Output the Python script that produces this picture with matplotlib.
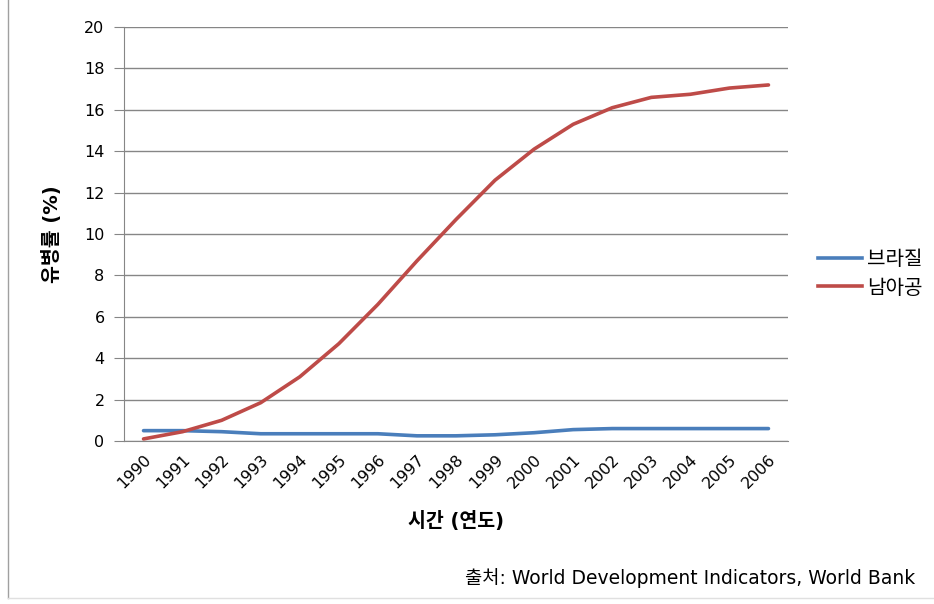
import numpy as np
import matplotlib.pyplot as plt
from matplotlib.lines import Line2D

plt.rcParams['font.family'] = ['DejaVu Sans', 'Noto Sans CJK KR']

# HIV prevalence, 1990-2006 (%)
years = [str(y) for y in range(1990, 2007)]
brazil = [0.5, 0.5, 0.45, 0.35, 0.35, 0.35, 0.35, 0.25, 0.25, 0.3, 0.4,
          0.55, 0.6, 0.6, 0.6, 0.6, 0.6]
south_africa = [0.1, 0.45, 1.0, 1.85, 3.1, 4.7, 6.6, 8.7, 10.7, 12.6, 14.1,
                15.3, 16.1, 16.6, 16.75, 17.05, 17.2]
series_names = ['브라질', '남아공']

fig = plt.figure(figsize=(9.34, 6.04), dpi=100)
ax = fig.add_axes([124 / 934, 1 - 441 / 604, 664 / 934, 414 / 604])

x = np.arange(len(years))
ax.plot(x, brazil, color='#4a7ebb', lw=2.6, solid_capstyle='round')
ax.plot(x, south_africa, color='#be4b48', lw=2.6, solid_capstyle='round')

ax.set_xlim(-0.5, len(years) - 0.5)
ax.set_ylim(0, 20)
ax.set_yticks(range(0, 21, 2))
ax.set_xticks(x)
ax.set_xticklabels(years, rotation=45, ha='right', rotation_mode='anchor',
                   fontsize=11.5)
ax.tick_params(axis='x', length=0, pad=8)
ax.tick_params(axis='y', length=7, color='#868686', labelsize=11.5, pad=7)
ax.grid(axis='y', color='#868686', lw=1)
ax.set_axisbelow(True)
for side in ['top', 'right']:
    ax.spines[side].set_visible(False)
ax.spines['left'].set_color('#868686')
ax.spines['bottom'].set_color('#868686')

ax.set_ylabel('유병률 (%)', fontsize=14, fontweight='bold', labelpad=16)
ax.set_xlabel('시간 (연도)', fontsize=14, fontweight='bold', labelpad=14)

handles = [Line2D([], [], color='#4a7ebb', lw=2.6),
           Line2D([], [], color='#be4b48', lw=2.6)]
fig.legend(handles, series_names, loc='center left',
           bbox_to_anchor=(800 / 934, 1 - 274 / 604), frameon=False,
           fontsize=14.5, handlelength=2.2, handletextpad=0.25, labelspacing=0.45)

fig.text(915 / 934, 1 - 578 / 604,
         '출처: World Development Indicators, World Bank',
         ha='right', va='center', fontsize=13.5)

# thin page border on the left and bottom
fig.add_artist(Line2D([8 / 934, 8 / 934], [1 - 598 / 604, 1], color='#a0a0a0', lw=1))
fig.add_artist(Line2D([8 / 934, 1], [1 - 598 / 604, 1 - 598 / 604], color='#e0e0e0', lw=1))

fig.savefig('out.png', dpi=100)
